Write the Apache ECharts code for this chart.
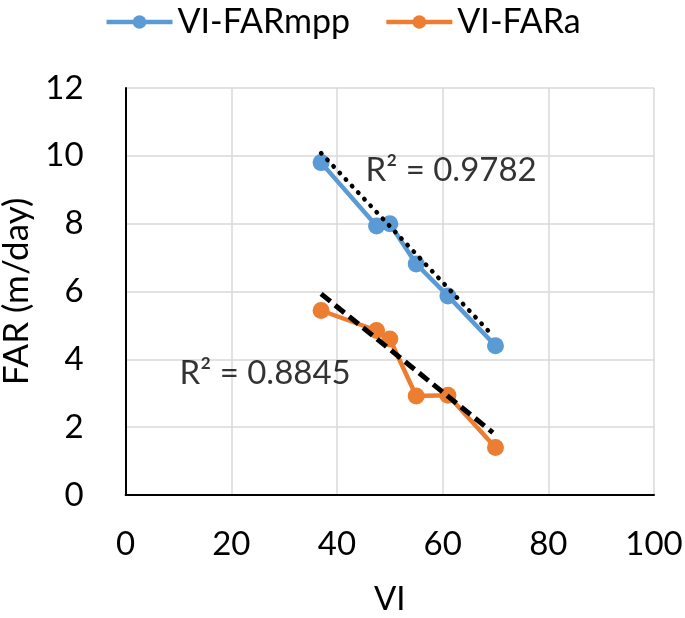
<!DOCTYPE html>
<html>
<head>
<meta charset="utf-8">
<script src="https://cdn.jsdelivr.net/npm/echarts@6/dist/echarts.min.js"></script>
<style>html,body{margin:0;padding:0;background:#fff}#c{width:685px;height:618px}</style>
</head>
<body>
<div id="c"></div>
<script>
var viValues = [37, 47.5, 50, 55, 61, 70];
var farMpp = [9.8, 7.93, 8.0, 6.81, 5.87, 4.4];
var farA = [5.44, 4.85, 4.6, 2.92, 2.94, 1.4];
var trendMppX = [37, 69];
var trendMppY = [10.08, 4.78];
var trendAX = [37, 69.5];
var trendAY = [5.93, 1.84];
var r2Labels = ['R² = 0.9782', 'R² = 0.8845'];
var r2Pos = [[45.4, 9.56], [10.2, 3.6]];
var xTicks = [0, 20, 40, 60, 80, 100];
var yTicks = [0, 2, 4, 6, 8, 10, 12];

function pairs(xs, ys){ return xs.map(function(x,i){return [x, ys[i]];}); }
var FONT = 'Lato';
var chart = echarts.init(document.getElementById('c'));
chart.setOption({
  animation: false,
  textStyle: {fontFamily: FONT},
  legend: {
    top: 0, left: 'center',
    itemWidth: 66, itemHeight: 17, itemGap: 34,
    lineStyle: {width: 4.5},
    textStyle: {fontSize: 34, color: '#000', fontFamily: FONT},
    data: ['VI-FARmpp', 'VI-FARa']
  },
  grid: {left: 125.6, right: 31, top: 88, bottom: 123, containLabel: false, outerBoundsMode: 'none'},
  xAxis: {
    type: 'value', min: 0, max: 100, interval: 20,
    name: 'VI', nameLocation: 'middle', nameGap: 88,
    nameTextStyle: {fontSize: 33, color: '#000'},
    axisLine: {show: true, lineStyle: {color: '#000', width: 2}},
    axisTick: {show: false},
    axisLabel: {fontSize: 33, color: '#000', margin: 33},
    splitLine: {show: true, lineStyle: {color: '#d9d9d9', width: 1.5}}
  },
  yAxis: {
    type: 'value', min: 0, max: 12, interval: 2,
    name: 'FAR (m/day)', nameLocation: 'middle', nameGap: 87, nameRotate: 90,
    nameTextStyle: {fontSize: 35, color: '#000'},
    axisLine: {show: true, lineStyle: {color: '#000', width: 2}},
    axisTick: {show: false},
    axisLabel: {fontSize: 33, color: '#000', margin: 42},
    splitLine: {show: true, lineStyle: {color: '#d9d9d9', width: 1.5}}
  },
  series: [
    {
      name: 'VI-FARmpp', type: 'line', data: pairs(viValues, farMpp),
      symbol: 'circle', symbolSize: 17,
      itemStyle: {color: '#5b9bd5'}, lineStyle: {color: '#5b9bd5', width: 4.5}, z: 3
    },
    {
      name: 'VI-FARa', type: 'line', data: pairs(viValues, farA),
      symbol: 'circle', symbolSize: 17,
      itemStyle: {color: '#ed7d31'}, lineStyle: {color: '#ed7d31', width: 4.5}, z: 3
    },
    {
      name: 'trendMpp', type: 'line', data: pairs(trendMppX, trendMppY),
      symbol: 'none', silent: true,
      lineStyle: {color: '#000', width: 4.5, type: [0.5, 8.5], cap: 'round'}, z: 4
    },
    {
      name: 'trendA', type: 'line', data: pairs(trendAX, trendAY),
      symbol: 'none', silent: true,
      lineStyle: {color: '#000', width: 5, type: [12, 6]}, z: 4
    },
    {
      name: 'r2', type: 'scatter', symbolSize: 0, silent: true,
      data: r2Pos.map(function(p, i){ return {value: p, label: {formatter: r2Labels[i]}}; }),
      label: {show: true, position: 'right', distance: 0, fontSize: 33, color: '#000', fontFamily: FONT}
    }
  ]
});
</script>
</body>
</html>
